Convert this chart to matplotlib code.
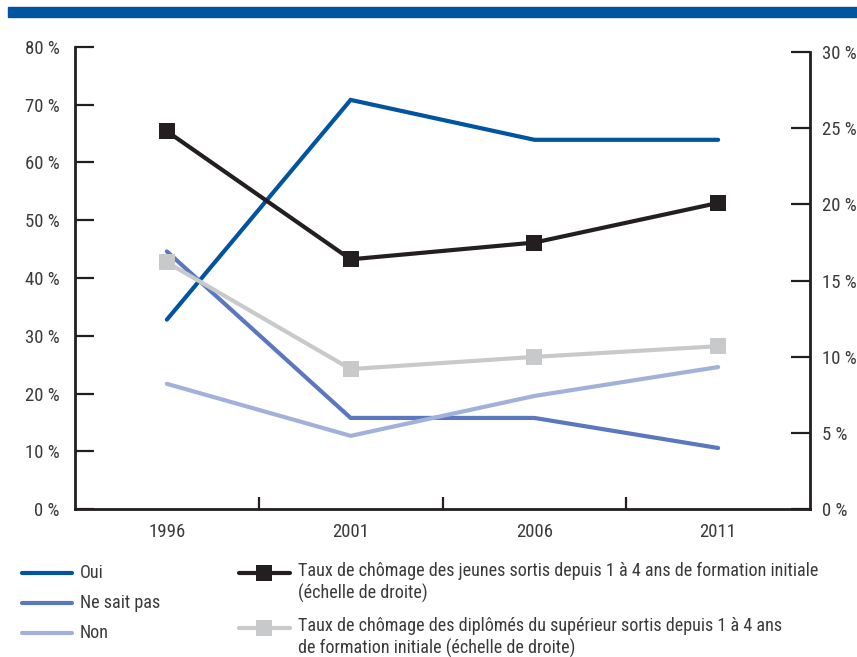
import matplotlib
matplotlib.use("Agg")  # render to file, no GUI
import matplotlib.pyplot as plt
from matplotlib.lines import Line2D
from matplotlib.patches import Rectangle
from matplotlib.ticker import FixedLocator
from matplotlib import font_manager

# Series read on the left scale (%)
years = ["1996", "2001", "2006", "2011"]
oui = [32.8, 70.8, 63.9, 63.9]
ne_sait_pas = [44.6, 15.8, 15.8, 10.6]
non = [21.7, 12.7, 19.6, 24.6]

# Series read on the right scale (%)
chomage_jeunes = [24.8, 16.4, 17.5, 20.1]
chomage_diplomes = [16.2, 9.2, 10.0, 10.7]

left_ticks = [0, 10, 20, 30, 40, 50, 60, 70, 80]
right_ticks = [0, 5, 10, 15, 20, 25, 30]

labels_left = ["Oui", "Ne sait pas", "Non"]
labels_right = [
    "Taux de chômage des jeunes sortis depuis 1 à 4 ans de formation initiale\n(échelle de droite)",
    "Taux de chômage des diplômés du supérieur sortis depuis 1 à 4 ans\nde formation initiale (échelle de droite)",
]

BLUE = "#0054A0"
MID_BLUE = "#5B78BE"
LIGHT_BLUE = "#A2B1DA"
BLACK = "#231F20"
GREY = "#C8C9CB"
TEXT = "#3A3A3A"

# pick a narrow face if one is installed, otherwise shrink the regular one
entries = font_manager.fontManager.ttflist
names = {f.name for f in entries}
narrow_names = ["Roboto Condensed", "Liberation Sans Narrow",
                "Open Sans Condensed", "Noto Sans Condensed",
                "DejaVu Sans Condensed"]
family, stretch, size = "DejaVu Sans", "normal", 11.3
for n in narrow_names:
    if n in names:
        family, size = n, 13.5
        break
else:
    condensed = [f for f in entries
                 if f.style == "normal"
                 and f.stretch in ("condensed", "semi-condensed", 500 - 125)
                 and f.name in ("Roboto", "Noto Sans", "Open Sans", "DejaVu Sans")]
    if condensed:
        family, stretch, size = condensed[0].name, "condensed", 13.5

plt.rcParams["font.family"] = [family, "DejaVu Sans"]
plt.rcParams["font.stretch"] = stretch
plt.rcParams["font.size"] = size

fig = plt.figure(figsize=(8.57, 6.57), dpi=100)

# blue band across the top
fig.patches.append(Rectangle((8 / 857, 1 - 17 / 657), 1, 10 / 657,
                             transform=fig.transFigure, color=BLUE, zorder=0))

# plot area: left scale 0-80 % from y=509 px up to y=47 px
top_px, bottom_px = 46.7, 509.3
ax = fig.add_axes([75 / 857, 1 - bottom_px / 657, 735 / 857,
                   (bottom_px - top_px) / 657])
ax2 = ax.twinx()

x = list(range(len(years)))
line_kw = dict(lw=3.0, solid_capstyle="round", solid_joinstyle="miter")
ax.plot(x, oui, color=BLUE, **line_kw)
ax.plot(x, ne_sait_pas, color=MID_BLUE, **line_kw)
ax.plot(x, non, color=LIGHT_BLUE, **line_kw)
ax2.plot(x, chomage_diplomes, color=GREY, marker="s", ms=11, mew=0, **line_kw)
ax2.plot(x, chomage_jeunes, color=BLACK, marker="s", ms=11.5, mew=0, **line_kw)

ax.set_xlim(-0.5, 3.5)
ax.set_ylim(0, 80)
# right scale tops out a few pixels lower than the left one
ax2.set_ylim(0, 30.35)
ax2.spines["right"].set_bounds(0, 30)

for a in (ax, ax2):
    a.spines["top"].set_visible(False)
    for sp in a.spines.values():
        sp.set_linewidth(2.0)
        sp.set_color(BLACK)

ax.spines["right"].set_visible(False)
ax2.spines["left"].set_visible(False)
ax2.spines["bottom"].set_visible(False)

ax.set_yticks(left_ticks)
ax.set_yticklabels([f"{v} %" for v in left_ticks])
ax2.set_yticks(right_ticks)
ax2.set_yticklabels([f"{v} %" for v in right_ticks])

ax.tick_params(axis="y", direction="in", length=14, width=1.6, color=BLACK,
               pad=11, labelcolor=TEXT)
ax2.tick_params(axis="y", direction="in", length=14, width=1.6, color=BLACK,
                pad=9, labelcolor=TEXT)

ax.set_xticks(x)
ax.set_xticklabels(years)
ax.xaxis.set_minor_locator(FixedLocator([0.5, 1.5, 2.5]))
ax.tick_params(axis="x", which="major", length=0, pad=10, labelcolor=TEXT)
ax.tick_params(axis="x", which="minor", direction="in", length=9, width=1.6,
               color=BLACK)


def fig_xy(px, py):
    return px / 857, 1 - py / 657


legend_size = size * 0.965

# legend drawn by hand: two columns
left_colors = [BLUE, MID_BLUE, LIGHT_BLUE]
for i, (lab, col) in enumerate(zip(labels_left, left_colors)):
    py = 573 + 30 * i
    x0, y0 = fig_xy(22, py)
    x1, _ = fig_xy(72, py)
    fig.add_artist(Line2D([x0, x1], [y0, y0], transform=fig.transFigure,
                          color=col, lw=3.0, solid_capstyle="round"))
    tx, ty = fig_xy(80, py)
    fig.text(tx, ty, lab, color=TEXT, va="center", ha="left", fontsize=legend_size)

right_colors = [BLACK, GREY]
for i, (lab, col) in enumerate(zip(labels_right, right_colors)):
    py = 573 + 55 * i
    x0, y0 = fig_xy(239, py)
    x1, _ = fig_xy(290, py)
    xm, _ = fig_xy(264, py)
    fig.add_artist(Line2D([x0, x1], [y0, y0], transform=fig.transFigure,
                          color=col, lw=3.0, solid_capstyle="round"))
    fig.add_artist(Line2D([xm], [y0], transform=fig.transFigure, color=col,
                          marker="s", ms=11, mew=0, lw=0))
    tx, ty = fig_xy(298, py - 11)
    fig.text(tx, ty, lab, color=TEXT, va="top", ha="left", linespacing=1.25,
             fontsize=legend_size)

fig.savefig("out.png", dpi=100)
